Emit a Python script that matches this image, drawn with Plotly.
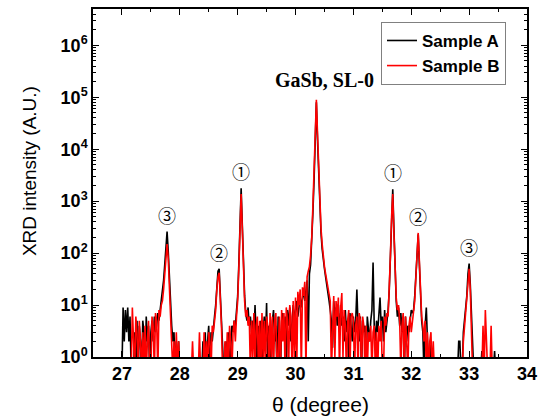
import numpy as np
import plotly.graph_objects as go

# Scan grid: 27.00 .. 33.50 deg, step 0.02 deg (326 points)
theta_start = 27.0
theta_step = 0.02
n_points = 326

# Sample A intensities (black), groups of 10 points (0.2 deg each); 0.5 = below axis floor
int_a = [
    0.5, 9, 2, 8, 3, 9, 2, 6, 0.5, 0.5,            # 27.00
    0.5, 3, 0.5, 5, 0.5, 4, 2, 0.5, 5, 3,           # 27.20
    0.5, 6, 2, 4, 0.5, 3, 5, 2, 6, 3,               # 27.40
    4, 7, 5, 8, 12, 18, 30, 60, 150, 260,           # 27.60
    110, 30, 10, 4, 2, 3, 0.5, 2, 0.5, 2,           # 27.80
    0.5, 0.5, 0.5, 0.5, 0.5, 0.5, 0.5, 0.5, 0.5, 0.5,  # 28.00
    0.5, 0.5, 0.5, 0.5, 0.5, 0.5, 0.5, 0.5, 0.5, 0.5,  # 28.20
    2, 0.5, 3, 0.5, 2, 4, 0.5, 3, 2, 4,             # 28.40
    6, 10, 25, 45, 50, 18, 5, 2, 0.5, 0.5,          # 28.60
    2, 0.5, 3, 0.5, 2, 4, 3, 5, 4, 8,               # 28.80
    15, 60, 450, 1780, 350, 50, 15, 7, 5, 9,        # 29.00
    4, 6, 3, 5, 2, 10, 3, 0.5, 4, 2,                # 29.20
    5, 0.5, 3, 6, 2, 11, 0.5, 4, 3, 0.5,            # 29.40
    5, 8, 2, 4, 0.5, 6, 3, 0.5, 5, 7,               # 29.60
    3, 6, 0.5, 8, 4, 9, 2, 6, 10, 5,                # 29.80
    8, 12, 6, 10, 14, 9, 15, 20, 12, 22,            # 30.00
    30, 2, 40, 60, 150, 600, 2500, 12000, 80000, 15000,  # 30.20
    3000, 800, 250, 120, 70, 50, 35, 25, 20, 12,    # 30.40
    8, 5, 1.5, 12, 6, 9, 4, 10, 3, 7,               # 30.60
    4, 6, 2, 8, 3, 5, 0.5, 7, 4, 2,                 # 30.80
    6, 3, 5, 20, 4, 2, 6, 0.5, 5, 3,                # 31.00
    4, 0.5, 6, 3, 2, 5, 8, 66, 4, 2,                # 31.20
    5, 3, 7, 14, 4, 6, 2, 8, 3, 5,                  # 31.40
    8, 20, 100, 600, 1700, 300, 40, 12, 6, 9,       # 31.60
    4, 7, 3, 5, 0.5, 6, 2, 4, 3, 5,                 # 31.80
    8, 7, 8, 15, 40, 120, 230, 60, 15, 5,           # 32.00
    3, 0.5, 4, 9, 2, 0.5, 0.5, 2, 0.5, 0.5,         # 32.20
    0.5, 0.5, 0.5, 0.5, 0.5, 0.5, 0.5, 0.5, 0.5, 0.5,  # 32.40
    0.5, 0.5, 0.5, 0.5, 0.5, 0.5, 0.5, 0.5, 0.5, 0.5,  # 32.60
    0.5, 2, 2, 0.5, 0.5, 3, 5, 8, 15, 40,           # 32.80
    63, 25, 6, 2, 0.5, 0.5, 0.5, 0.5, 0.5, 0.5,     # 33.00
    0.5, 1.3, 0.5, 0.5, 0.5, 0.5, 0.5, 0.5, 0.5, 0.5,  # 33.20
    0.5, 0.5, 1.3, 0.5, 0.5, 0.5,                   # 33.40
]

# Sample B intensities (red)
int_b = [
    0.5, 0.5, 0.5, 0.5, 0.5, 0.5, 0.5, 0.5, 0.5, 9,    # 27.00
    2, 0.5, 6, 3, 0.5, 5, 2, 0.5, 3, 0.5,           # 27.20
    4, 0.5, 2, 5, 0.5, 0.5, 6, 4, 0.5, 7,           # 27.40
    5, 0.5, 8, 6, 10, 12, 20, 40, 100, 150,         # 27.60
    80, 25, 8, 4, 0.5, 2, 0.5, 3, 0.5, 2,           # 27.80
    0.5, 0.5, 0.5, 0.5, 0.5, 0.5, 0.5, 0.5, 0.5, 0.5,  # 28.00
    0.5, 2, 0.5, 0.5, 0.5, 0.5, 0.5, 3, 0.5, 0.5,   # 28.20
    0.5, 3, 0.5, 2, 0.5, 3, 2, 0.5, 4, 3,           # 28.40
    5, 8, 20, 35, 42, 15, 4, 0.5, 0.5, 2,           # 28.60
    0.5, 3, 0.5, 4, 2, 0.5, 3, 5, 2, 6,             # 28.80
    12, 50, 380, 1380, 300, 45, 12, 6, 8, 4,        # 29.00
    6, 0.5, 5, 1, 7, 0.5, 4, 6, 0.5, 5,             # 29.20
    0.5, 7, 1, 5, 0.5, 6, 4, 0.5, 7, 1,             # 29.40
    6, 0.5, 5, 7, 0.5, 1, 6, 0.5, 8, 2,             # 29.60
    7, 0.5, 9, 5, 0.5, 10, 6, 0.5, 12, 1,           # 29.80
    14, 0.5, 18, 10, 20, 0.5, 22, 15, 28, 0.5,      # 30.00
    35, 45, 55, 90, 200, 800, 4000, 20000, 90000, 20000,  # 30.20
    3500, 900, 300, 150, 80, 55, 40, 30, 22, 18,    # 30.40
    12, 0.5, 3, 15, 1, 12, 6, 14, 0.5, 9,           # 30.60
    17, 1, 8, 4, 0.5, 5, 8, 0.5, 6, 7,              # 30.80
    5, 0.5, 4, 6, 0.5, 7, 5, 0.5, 6, 4,             # 31.00
    0.5, 4, 0.5, 3, 2, 4, 0.5, 3, 4, 0.5,           # 31.20
    3, 0.5, 4, 2, 5, 0.5, 0.5, 6, 4, 7,             # 31.40
    6, 18, 90, 500, 1370, 250, 35, 14, 8, 10,       # 31.60
    5, 0.5, 4, 7, 0.5, 6, 2, 0.5, 4, 6,             # 31.80
    3, 5, 6, 12, 35, 110, 245, 70, 18, 6,           # 32.00
    4, 2, 5, 0.5, 3, 0.5, 2, 3, 0.5, 2,             # 32.20
    0.5, 0.5, 0.5, 0.5, 0.5, 0.5, 0.5, 0.5, 0.5, 0.5,  # 32.40
    0.5, 0.5, 0.5, 0.5, 0.5, 0.5, 0.5, 0.5, 0.5, 0.5,  # 32.60
    0.5, 0.5, 0.5, 0.5, 0.5, 2, 4, 6, 12, 30,       # 32.80
    50, 20, 5, 0.5, 0.5, 0.5, 0.5, 0.5, 0.5, 0.5,   # 33.00
    0.5, 0.5, 4, 0.5, 8, 3, 0.5, 0.5, 0.5, 4,       # 33.20
    0.5, 0.5, 0.5, 0.5, 0.5, 0.5,                   # 33.40
]

# Satellite peak labels
peak_theta = [27.78, 28.68, 29.06, 31.68, 32.12, 33.00]
peak_labels = ["③", "②", "①", "①", "②", "③"]
main_peak_theta = 30.36
main_peak_label = "GaSb, SL-0"

# Axis ticks
x_tickvals = [27, 28, 29, 30, 31, 32, 33, 34]
y_exponents = [0, 1, 2, 3, 4, 5, 6]
y_ticktext = ["10<sup>%d</sup>" % e for e in y_exponents]

assert len(int_a) == n_points and len(int_b) == n_points
theta = np.round(theta_start + theta_step * np.arange(n_points), 2)

fig = go.Figure()
fig.add_trace(go.Scatter(x=theta, y=int_a, mode="lines", name="Sample A",
                         line=dict(color="#000000", width=1.6)))
fig.add_trace(go.Scatter(x=theta, y=int_b, mode="lines", name="Sample B",
                         line=dict(color="#ff0000", width=1.6)))

def peak_height(t):
    i = int(np.argmin(np.abs(theta - t)))
    return max(int_a[i], int_b[i])

for t, lab in zip(peak_theta, peak_labels):
    fig.add_annotation(x=t, y=np.log10(peak_height(t)), text=lab, showarrow=False,
                       yanchor="middle", yshift=17,
                       font=dict(family="Noto Sans CJK JP", size=18, color="#000000"))

fig.add_annotation(x=main_peak_theta, y=np.log10(peak_height(main_peak_theta)),
                   text=main_peak_label, showarrow=False, yanchor="middle",
                   yshift=20, xshift=8,
                   font=dict(family="Liberation Serif", size=20, color="#000000",
                             weight="bold"))

# Axis titles as annotations
fig.add_annotation(xref="paper", yref="paper", x=(320 - 93) / 434, y=-(405 - 357) / 350,
                   text="θ (degree)", showarrow=False, xanchor="center", yanchor="middle",
                   font=dict(family="Liberation Sans", size=21, color="#000000"))
fig.add_annotation(xref="paper", yref="paper", x=-(93 - 29) / 434, y=1 - (170 - 7) / 350,
                   text="XRD intensity (A.U.)", showarrow=False, textangle=-90,
                   xanchor="center", yanchor="middle",
                   font=dict(family="Liberation Sans", size=19, color="#000000"))

tickfont = dict(family="Liberation Sans", size=18, color="#000000", weight="bold")

fig.update_xaxes(range=[26.5, 34], tickvals=x_tickvals, ticks="inside", ticklen=6,
                 tickwidth=1, tickcolor="#000000", showline=True, linecolor="#000000",
                 linewidth=1.5, mirror="allticks", showgrid=False, zeroline=False,
                 tickfont=tickfont, ticklabelstandoff=0,
                 minor=dict(ticks="inside", ticklen=3, dtick=0.5, tickcolor="#000000",
                            showgrid=False))
fig.update_yaxes(type="log", range=[0, 6.7], tickvals=[10 ** e for e in y_exponents],
                 ticktext=y_ticktext, ticks="inside", ticklen=6, tickwidth=1,
                 tickcolor="#000000", showline=True, linecolor="#000000", linewidth=1.5,
                 mirror="allticks", showgrid=False, zeroline=False, tickfont=tickfont,
                 minor=dict(ticks="inside", ticklen=3, dtick="D1", tickcolor="#000000",
                            showgrid=False))

fig.update_layout(
    width=548, height=419,
    margin=dict(l=93, r=21, t=7, b=62),
    paper_bgcolor="#ffffff", plot_bgcolor="#ffffff",
    showlegend=True,
    legend=dict(x=(381 - 93) / 434, y=1 - (20 - 7) / 350, xanchor="left", yanchor="top",
                bordercolor="#808080", borderwidth=1, bgcolor="#ffffff",
                font=dict(family="Liberation Sans", size=17, color="#000000", weight="bold"),
                tracegroupgap=0, itemwidth=30),
)

fig.write_html("out.html")
